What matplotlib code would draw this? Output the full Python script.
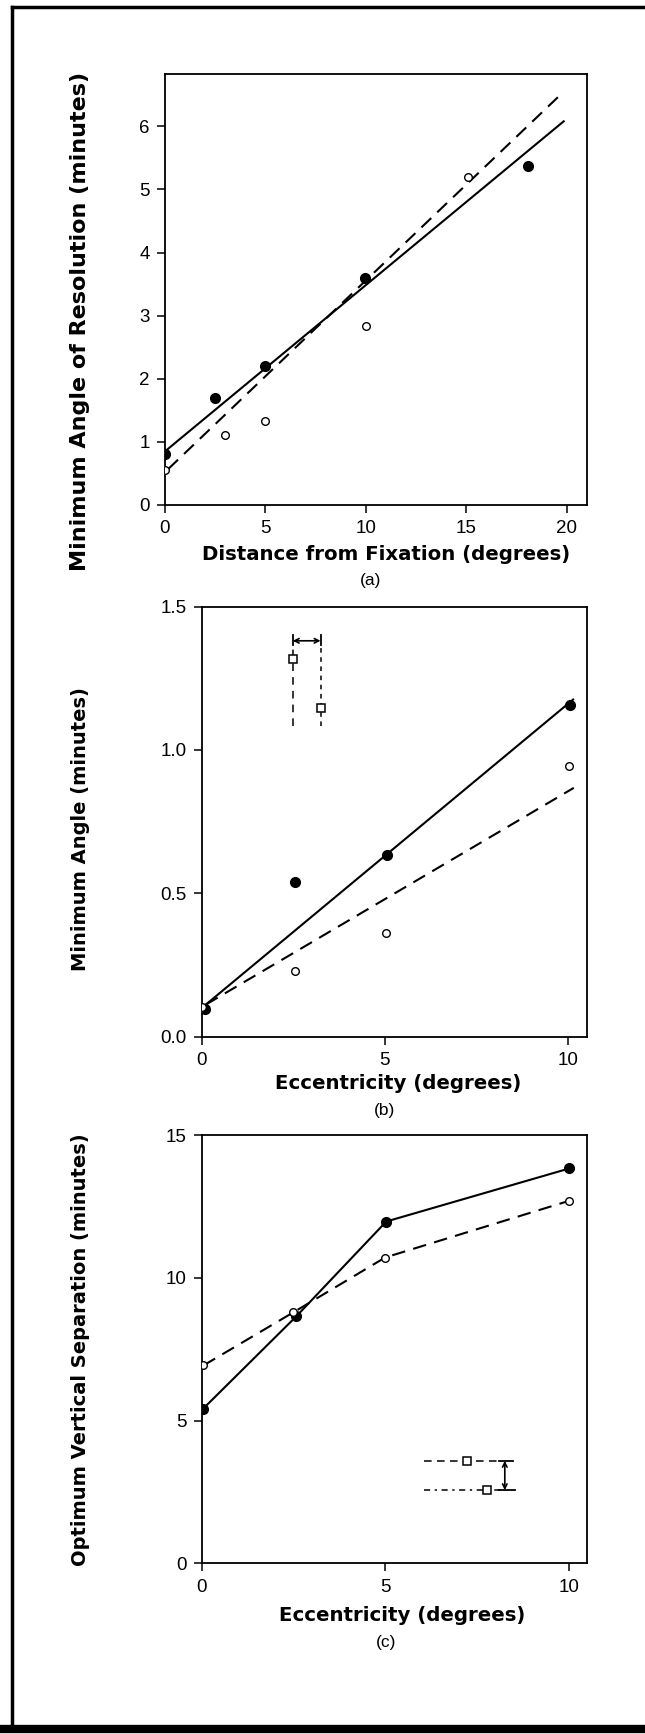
import numpy as np
import matplotlib
matplotlib.use("Agg")
import matplotlib.pyplot as plt
from matplotlib.lines import Line2D

plt.rcParams['font.family'] = ['Liberation Sans', 'DejaVu Sans']

# (a) 偏离注视点的距离 vs 最小分辨角
a_fill_x = [0.0, 2.48, 5.0, 9.96, 18.05]
a_fill_y = [0.81, 1.70, 2.21, 3.59, 5.37]
a_open_x = [0.0, 3.01, 5.0, 10.0, 15.06]
a_open_y = [0.55, 1.11, 1.33, 2.83, 5.19]
a_solid_x = [0.0, 19.84]
a_solid_y = [0.85, 6.08]
a_dash_x = [0.16, 19.84]
a_dash_y = [0.57, 6.55]

# (b) 离心率 vs 最小角
b_fill_x = [0.08, 2.55, 5.06, 10.07]
b_fill_y = [0.098, 0.538, 0.634, 1.158]
b_open_x = [0.0, 2.54, 5.03, 10.04]
b_open_y = [0.103, 0.229, 0.362, 0.944]
b_solid_x = [0.08, 10.15]
b_solid_y = [0.108, 1.176]
b_dash_x = [0.12, 10.17]
b_dash_y = [0.112, 0.868]
b_key_x = [2.49, 3.25]
b_key_y = [1.316, 1.148]
b_key_top = 1.40
b_key_bot = 1.084
b_key_arrow = 1.381

# (c) 离心率 vs 最佳垂直间距
c_fill_x = [0.03, 2.58, 5.03, 10.02]
c_fill_y = [5.40, 8.65, 11.97, 13.83]
c_open_x = [0.05, 2.5, 5.0, 10.0]
c_open_y = [6.93, 8.79, 10.71, 12.69]
c_key_y = [3.59, 2.56]
c_key_sq = [7.22, 7.78]
c_key_x0 = 6.07
c_key_x1 = [8.48, 8.54]
c_key_arrow = 8.26

fig = plt.figure(figsize=(6.45, 17.34), dpi=100)

ax_a = fig.add_axes([0.2558, 0.70877, 0.6543, 0.24856])
ax_b = fig.add_axes([0.3126, 0.40219, 0.5975, 0.24793])
ax_c = fig.add_axes([0.3126, 0.09844, 0.5975, 0.24700])

dash = (6.5, 4)
fill_kw = dict(marker='o', ms=7, color='black', ls='none', zorder=4)
open_kw = dict(marker='o', ms=5.5, mfc='white', mec='black', mew=1.0, ls='none', zorder=4)


def style(ax, xlim, ylim, xt, yt, yfmt=None):
    ax.set_xlim(*xlim)
    ax.set_ylim(*ylim)
    ax.set_xticks(xt)
    ax.set_yticks(yt)
    if yfmt:
        ax.set_yticklabels([yfmt % v for v in yt])
    ax.tick_params(direction='out', length=6, width=1.1, labelsize=13.5, pad=5)
    for s in ax.spines.values():
        s.set_linewidth(1.3)


def labels(ax, xl, xy, yl, yy, sub, sy, ysize=14, xsize=14.2):
    ax.text(xy[0], xy[1], xl, transform=ax.transAxes, ha='center', va='center',
            fontsize=xsize, fontweight='heavy', family='DejaVu Sans')
    ax.text(yy[0], yy[1], yl, transform=ax.transAxes, ha='center', va='center',
            rotation=90, fontsize=ysize, fontweight='heavy', family='DejaVu Sans')
    ax.text(sy[0], sy[1], sub, transform=ax.transAxes, ha='center', va='center', fontsize=12.5)


# (a)
ax_a.plot(a_solid_x, a_solid_y, color='black', lw=1.5)
ax_a.plot(a_dash_x, a_dash_y, color='black', lw=1.5, ls='--', dashes=dash)
ax_a.plot(a_fill_x, a_fill_y, **fill_kw)
ax_a.plot(a_open_x, a_open_y, **open_kw)
style(ax_a, (0, 21.0), (0, 6.83), [0, 5, 10, 15, 20], [0, 1, 2, 3, 4, 5, 6])
labels(ax_a, 'Distance from Fixation (degrees)', (0.523, -0.114),
       'Minimum Angle of Resolution (minutes)', (-0.201, 0.427), '(a)', (0.486, -0.176),
       ysize=16)

# (b)
ax_b.plot(b_solid_x, b_solid_y, color='black', lw=1.5)
ax_b.plot(b_dash_x, b_dash_y, color='black', lw=1.5, ls='--', dashes=dash)
ax_b.plot(b_fill_x, b_fill_y, **fill_kw)
ax_b.plot(b_open_x, b_open_y, **open_kw)
for i, kx in enumerate(b_key_x):
    ax_b.plot([kx, kx], [b_key_bot, b_key_arrow - 0.01], color='black', lw=1.1,
              ls='--', dashes=(5, 4) if i == 0 else (3, 3))
    ax_b.plot([kx, kx], [b_key_arrow - 0.015, b_key_top], color='black', lw=1.3)
    ax_b.plot([kx], [b_key_y[i]], marker='s', ms=5.5, mfc='white', mec='black', mew=1.1)
ax_b.annotate('', xy=(b_key_x[1], b_key_arrow), xytext=(b_key_x[0], b_key_arrow),
              arrowprops=dict(arrowstyle='<->', lw=1.2, color='black',
                              shrinkA=0, shrinkB=0, mutation_scale=8))
style(ax_b, (0, 10.53), (0, 1.5), [0, 5, 10], [0.0, 0.5, 1.0, 1.5], '%.1f')
labels(ax_b, 'Eccentricity (degrees)', (0.509, -0.110),
       'Minimum Angle (minutes)', (-0.3155, 0.483), '(b)', (0.475, -0.173))

# (c)
ax_c.plot(c_fill_x, c_fill_y, color='black', lw=1.5, marker='o', ms=7, zorder=3)
ax_c.plot(c_open_x, c_open_y, color='black', lw=1.5, ls='--', dashes=dash,
          marker='o', ms=5.5, mfc='white', mec='black', mew=1.0, zorder=4)
for i, ky in enumerate(c_key_y):
    ax_c.plot([c_key_x0, c_key_arrow - 0.12], [ky, ky], color='black', lw=1.1,
              ls='--', dashes=(5, 3.5) if i == 0 else (4, 3, 1.5, 3))
    ax_c.plot([c_key_arrow - 0.15, c_key_x1[i]], [ky, ky], color='black', lw=1.3)
    ax_c.plot([c_key_sq[i]], [ky], marker='s', ms=5.5, mfc='white', mec='black', mew=1.1)
ax_c.annotate('', xy=(c_key_arrow, c_key_y[1]), xytext=(c_key_arrow, c_key_y[0]),
              arrowprops=dict(arrowstyle='<->', lw=1.2, color='black',
                              shrinkA=0, shrinkB=0, mutation_scale=8))
style(ax_c, (0, 10.5), (0, 15), [0, 5, 10], [0, 5, 10, 15])
labels(ax_c, 'Eccentricity (degrees)', (0.520, -0.121),
       'Optimum Vertical Separation (minutes)', (-0.3155, 0.498), '(c)', (0.478, -0.184))

# 外框（上、左、下）
fig.add_artist(Line2D([0.0186, 1.0], [0.9957, 0.9957], color='black', lw=2.5,
                      transform=fig.transFigure))
fig.add_artist(Line2D([0.0186, 0.0186], [0.0029, 0.9957], color='black', lw=2.5,
                      transform=fig.transFigure))
fig.add_artist(Line2D([0.0, 1.0], [0.0029, 0.0029], color='black', lw=6,
                      transform=fig.transFigure))

fig.savefig('out.png', dpi=100)
